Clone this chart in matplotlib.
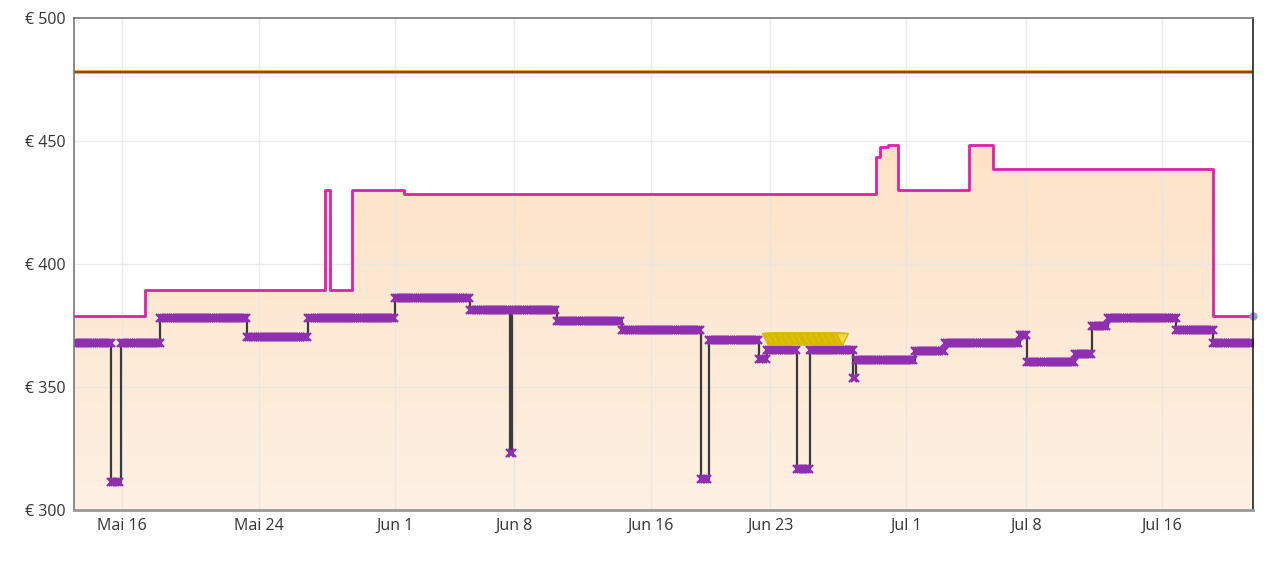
import numpy as np
import pandas as pd
import matplotlib
matplotlib.use("Agg")
import matplotlib.pyplot as plt
import matplotlib.dates as mdates

plt.rcParams['font.family'] = ['Open Sans', 'DejaVu Sans']

# list price (flat brown line)
list_price = 478

# magenta step series (change points)
mag_dates = ["2021-05-13 04:00", "2021-05-17 08:00", "2021-05-27 21:00", "2021-05-28 04:00",
             "2021-05-29 12:00", "2021-06-01 12:00", "2021-06-29 05:00", "2021-06-29 11:00",
             "2021-06-29 22:00", "2021-06-30 12:00", "2021-07-04 16:00", "2021-07-06 02:00",
             "2021-07-19 00:00", "2021-07-21 08:00"]
mag_vals = [379, 389.5, 430, 389.5, 430, 428.5, 443.5, 447.5, 448.5, 430, 448.5, 438.5, 379, 379]

# purple step series (change points)
pur_dates = ["2021-05-13 04:00", "2021-05-15 08:30", "2021-05-15 22:30", "2021-05-18 05:30",
             "2021-05-23 08:00", "2021-05-26 22:00", "2021-06-01 00:00", "2021-06-05 10:00",
             "2021-06-07 18:00", "2021-06-07 21:00", "2021-06-10 12:00", "2021-06-14 08:00",
             "2021-06-18 23:00", "2021-06-19 10:00", "2021-06-22 09:00", "2021-06-22 20:00",
             "2021-06-24 14:00", "2021-06-25 08:00", "2021-06-27 21:00", "2021-06-28 01:00",
             "2021-07-01 12:00", "2021-07-03 06:00", "2021-07-07 16:00", "2021-07-08 02:00",
             "2021-07-10 21:00", "2021-07-11 21:00", "2021-07-12 20:00", "2021-07-16 20:00",
             "2021-07-19 00:00", "2021-07-21 08:00"]
pur_vals = [368, 311.5, 368, 378, 370.5, 378, 386, 381.5, 323, 381.5, 377, 373, 312.5, 369,
            361.5, 365, 316.5, 365, 353.5, 361, 364.5, 368, 371, 360, 363.5, 375, 378, 373,
            368, 368]

# yellow series
yel_dates = ["2021-06-22 21:00", "2021-06-27 06:00"]
yel_vals = [369.5, 369.5]

tick_dates = ["2021-05-16", "2021-05-24", "2021-06-01", "2021-06-08", "2021-06-16",
              "2021-06-23", "2021-07-01", "2021-07-08", "2021-07-16"]
tick_labels = ["Mai 16", "Mai 24", "Jun 1", "Jun 8", "Jun 16", "Jun 23", "Jul 1", "Jul 8", "Jul 16"]
y_ticks = [300, 350, 400, 450, 500]

mx = mdates.date2num(pd.to_datetime(mag_dates))
px = mdates.date2num(pd.to_datetime(pur_dates))
yx = mdates.date2num(pd.to_datetime(yel_dates))
tx = mdates.date2num(pd.to_datetime(tick_dates))

fig = plt.figure(figsize=(12.8, 5.61), dpi=100)
ax = fig.add_axes([74/1280, 51/561, 1179/1280, 492/561])
x0, x1 = mx[0], mx[-1]
ax.set_xlim(x0, x1)
ax.set_ylim(300, 500)

# gradient fill under magenta line
grad = np.linspace(0, 1, 256).reshape(-1, 1)
cmap = matplotlib.colors.LinearSegmentedColormap.from_list("pch", ["#FEF0E3", "#FDE2C6"])
im = ax.imshow(grad, extent=[x0, x1, 300, 450], origin="lower", aspect="auto",
               cmap=cmap, zorder=1)
poly = ax.fill_between(mx, mag_vals, 300, step="post", color="none", lw=0)
clip = poly.get_paths()[0]
im.set_clip_path(clip, transform=ax.transData)

# grid
for t in tx:
    ax.axvline(t, color="#e6e6e6", lw=1, alpha=0.8, zorder=2)
for v in y_ticks[1:-1]:
    ax.axhline(v, color="#e6e6e6", lw=1, alpha=0.8, zorder=2)

# list price
ax.axhline(list_price, color="#F0A050", lw=3, zorder=3)
ax.axhline(list_price, color="#6B3A10", lw=1.2, zorder=3)

# magenta
ax.step(mx, mag_vals, where="post", color="#E020A8", lw=2, zorder=4)
ax.plot(mx[-1], mag_vals[-1], "o", color="#9C9CE0", ms=5, zorder=5, clip_on=False)

# purple: gray step line + dense x markers along each level
ax.step(px, pur_vals, where="post", color="#3a3a3a", lw=1.6, zorder=5)
spacing = 0.12
for i in range(len(px) - 1):
    xs = np.arange(px[i], px[i + 1], spacing)
    if len(xs) == 0:
        xs = np.array([px[i]])
    ax.plot(xs, np.full(len(xs), pur_vals[i]), "x", color="#8E2FB0", ms=6, mew=1.6,
            zorder=6, clip_on=True)

# yellow triangles
ys = np.arange(yx[0], yx[1], 0.07)
ax.plot(ys, np.full(len(ys), yel_vals[0]), "v", ms=8, mfc="#F0D84A", mec="#D9B800",
        mew=1, zorder=7)

ax.set_xticks(tx)
ax.set_xticklabels(tick_labels)
ax.set_yticks(y_ticks)
ax.set_yticklabels(["€ %d" % v for v in y_ticks])
ax.tick_params(length=0, labelsize=11.5, colors="#333333", pad=6)
for s in ["top", "left"]:
    ax.spines[s].set_color("#777777")
    ax.spines[s].set_linewidth(1.2)
ax.spines["right"].set_color("#222222")
ax.spines["right"].set_linewidth(1.2)
ax.spines["bottom"].set_color("#999999")
ax.spines["bottom"].set_linewidth(2)
for s in ax.spines.values():
    s.set_zorder(10)

fig.savefig("out.png", dpi=100)
